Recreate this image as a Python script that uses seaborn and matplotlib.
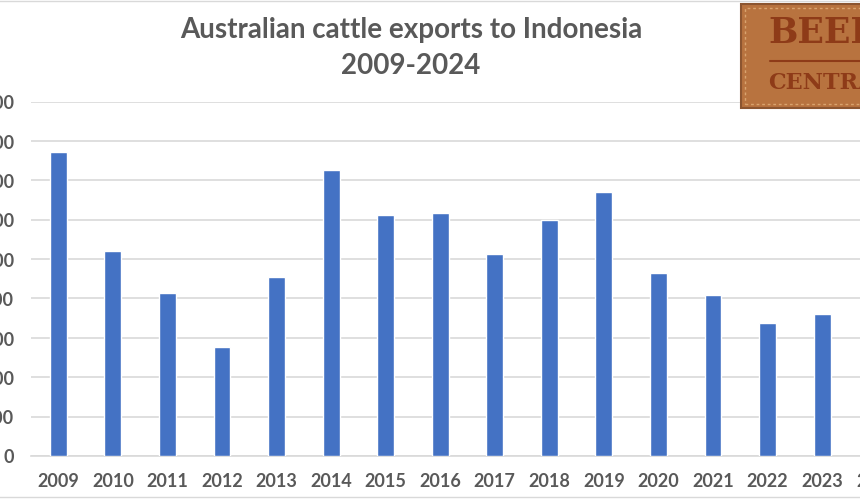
import numpy as np
import pandas as pd
import matplotlib
matplotlib.use('Agg')
import matplotlib.pyplot as plt
import matplotlib.patches as mpatches
from matplotlib.ticker import FuncFormatter
import seaborn as sns

# data (head of cattle)
years = ['2009', '2010', '2011', '2012', '2013', '2014', '2015', '2016',
         '2017', '2018', '2019', '2020', '2021', '2022', '2023', '2024']
exports = [773000, 521000, 413000, 277000, 454000, 727000, 612000, 616000,
           512000, 599000, 670000, 464000, 409000, 337000, 360000, 430000]
yticks = [0, 100000, 200000, 300000, 400000, 500000, 600000, 700000, 800000, 900000]

df = pd.DataFrame({'year': years, 'exports': exports})

sns.set_theme(style='white')
plt.rcParams['font.family'] = ['Lato', 'DejaVu Sans']

grey = '#595959'
fig = plt.figure(figsize=(8.6, 5.0), dpi=100)
# plot area runs past both edges of the picture, like the cropped reference
ax = fig.add_axes([31 / 860, 1 - 456 / 500, 873 / 860, (456 - 101.6) / 500])

sns.barplot(data=df, x='year', y='exports', color='#4472C4', width=0.31,
            saturation=1, ax=ax, zorder=3)

ax.set_xlim(-0.5, len(years) - 0.5)
ax.set_ylim(0, 900000)
ax.set_yticks(yticks)
ax.yaxis.set_major_formatter(FuncFormatter(lambda v, p: f'{int(v):,}'))
ax.grid(axis='y', color='#D9D9D9', linewidth=1.2, zorder=0)
ax.set_axisbelow(True)
for s in ['top', 'right', 'left']:
    ax.spines[s].set_visible(False)
ax.spines['bottom'].set_color('#D9D9D9')
ax.spines['bottom'].set_linewidth(1.2)
ax.tick_params(axis='both', length=0, colors=grey, labelsize=13)
ax.tick_params(axis='y', pad=12)
ax.tick_params(axis='x', pad=12)
for lab in ax.get_xticklabels() + ax.get_yticklabels():
    lab.set_fontweight('bold')
ax.set_xlabel('')
ax.set_ylabel('')

fig.text(411 / 860, 1 - 30 / 500, 'Australian cattle exports to Indonesia', ha='center', va='center',
         fontsize=20, fontweight='bold', color=grey)
fig.text(411 / 860, 1 - 66 / 500, '2009-2024', ha='center', va='center',
         fontsize=20, fontweight='bold', color=grey)

# chart border
fig.patches.append(mpatches.Rectangle((-0.01, 0.006), 1.02, 0.992, transform=fig.transFigure,
                                      fill=False, edgecolor='#D9D9D9', linewidth=1))

# Beef Central leather badge
fig.patches.append(mpatches.Rectangle((741 / 860, 1 - 108 / 500), 130 / 860, 104 / 500,
                                      transform=fig.transFigure, facecolor='#B8733F',
                                      edgecolor='#8C5530', linewidth=1.5))
fig.patches.append(mpatches.Rectangle((745 / 860, 1 - 104 / 500), 130 / 860, 96 / 500,
                                      transform=fig.transFigure, fill=False,
                                      edgecolor='#D9A36E', linewidth=1, linestyle=(0, (2, 2))))
fig.text(768 / 860, 1 - 33 / 500, 'BEEF', ha='left', va='center', fontsize=25,
         fontweight='bold', family='DejaVu Serif', color='#8E3B18')
fig.add_artist(plt.Line2D([770 / 860, 1.0], [1 - 61 / 500, 1 - 61 / 500],
                          transform=fig.transFigure, color='#8E3B18', linewidth=1.5))
fig.text(768 / 860, 1 - 83 / 500, 'CENTRAL', ha='left', va='center', fontsize=16,
         fontweight='bold', family='DejaVu Serif', color='#8E3B18')

plt.savefig('out.png', dpi=100)
